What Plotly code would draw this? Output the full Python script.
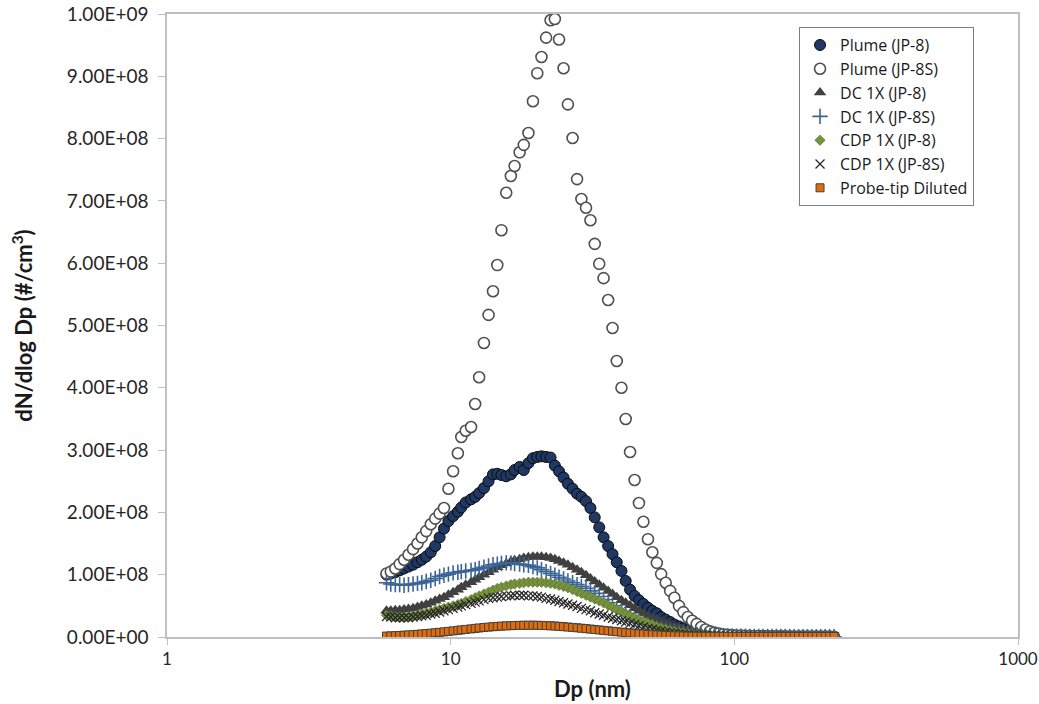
import plotly.graph_objects as go

# Particle diameter bins (nm)
DP_NM = [
    5.94, 6.15, 6.38, 6.61, 6.85, 7.10, 7.37, 7.64, 7.91, 8.20,
    8.51, 8.82, 9.14, 9.47, 9.82, 10.2, 10.6, 10.9, 11.3, 11.8,
    12.2, 12.6, 13.1, 13.6, 14.1, 14.6, 15.1, 15.7, 16.3, 16.8,
    17.5, 18.1, 18.8, 19.5, 20.2, 20.9, 21.7, 22.5, 23.3, 24.1,
    25.0, 25.9, 26.9, 27.9, 28.9, 30.0, 31.1, 32.2, 33.4, 34.6,
    35.9, 37.2, 38.5, 40.0, 41.4, 42.9, 44.5, 46.1, 47.8, 49.6,
    51.4, 53.3, 55.2, 57.3, 59.4, 61.5, 63.8, 66.1, 68.5, 71.0,
    73.7, 76.4, 79.1, 82.0, 85.1, 88.2, 91.4, 94.7, 98.2, 101.8,
    105.5, 109.4, 113.4, 117.6, 121.9, 126.3, 131.0, 135.8, 140.7, 145.9,
    151.2, 156.8, 162.5, 168.5, 174.7, 181.1, 187.7, 194.6, 201.7, 209.1,
    216.7, 224.7,
]

# dN/dlogDp values in units of 1e6 #/cm3
PLUME_JP8 = [
    100, 102, 104, 107, 110, 113, 116, 120, 124, 129,
    136, 146, 160, 174, 186, 194, 201, 208, 216, 221,
    225, 231, 239, 250, 261, 262, 260, 258, 261, 268,
    273, 268, 279, 287, 289, 290, 289, 288, 275, 266,
    256, 246, 238, 230, 225, 218, 207, 192, 176, 160,
    146, 133, 120, 106, 90, 76, 66, 59, 53, 47,
    42, 38, 32, 28, 24, 20, 17, 14, 11, 9,
    7, 5.5, 4.5, 3.5, 3.0, 2.5, 2.2, 2.0, 1.8, 1.6,
    1.5, 1.4, 1.3, 1.2, 1.1, 1.0, 1.0, 0.9, 0.9, 0.8,
    0.8, 0.8, 0.7, 0.7, 0.7, 0.6, 0.6, 0.6, 0.5, 0.5,
    0.5, 0.5,
]
PLUME_JP8S = [
    102, 105, 110, 117, 124, 132, 141, 150, 160, 170,
    181, 190, 198, 207, 238, 266, 295, 321, 331, 337,
    374, 417, 472, 517, 555, 597, 653, 713, 740, 756,
    778, 790, 809, 860, 905, 931, 962, 990, 992, 959,
    913, 855, 801, 735, 703, 689, 669, 631, 599, 576,
    541, 496, 443, 400, 350, 297, 252, 215, 185, 157,
    136, 119, 101, 87, 74, 63, 50, 40, 32, 26,
    21, 16, 12, 9, 7, 5.5, 4.5, 3.5, 3.0, 2.5,
    2.2, 2.0, 1.8, 1.6, 1.5, 1.4, 1.3, 1.2, 1.1, 1.0,
    1.0, 0.9, 0.9, 0.8, 0.8, 0.7, 0.7, 0.7, 0.6, 0.6,
    0.6, 0.5,
]
DC1X_JP8 = [
    42, 42, 43, 43, 44, 45, 46, 48, 50, 52,
    55, 58, 61, 64, 68, 72, 76, 80, 84, 88,
    92, 96, 100, 104, 108, 112, 115, 118, 121, 123,
    125, 127, 128, 129, 129, 129, 128, 127, 125, 122,
    119, 116, 112, 108, 104, 99, 94, 89, 84, 79,
    74, 69, 64, 59, 55, 51, 46, 42, 38, 34,
    31, 28, 25, 22, 19, 17, 15, 13, 11, 9,
    8, 6.5, 5.5, 4.5, 3.8, 3.2, 2.7, 2.3, 2.0, 1.8,
    1.6, 1.5, 1.4, 1.3, 1.2, 1.1, 1.0, 1.0, 0.9, 0.9,
    0.8, 0.8, 0.7, 0.7, 0.7, 0.6, 0.6, 0.6, 0.5, 0.5,
    0.5, 0.5,
]
DC1X_JP8S = [
    87, 85, 84, 84, 83, 84, 85, 86, 87, 89,
    91, 94, 97, 99, 101, 103, 104, 105, 106, 107,
    108, 110, 112, 114, 116, 117, 118, 119, 119, 118,
    117, 116, 115, 113, 111, 108, 105, 102, 99, 96,
    93, 90, 87, 84, 81, 78, 74, 70, 65, 60,
    55, 50, 45, 41, 37, 33, 29, 26, 23, 20,
    17, 15, 13, 11, 9.5, 8, 7, 6, 5, 4.2,
    3.5, 3.0, 2.6, 2.3, 2.0, 1.8, 1.6, 1.5, 1.4, 1.3,
    1.2, 1.1, 1.0, 1.0, 0.9, 0.9, 0.8, 0.8, 0.7, 0.7,
    0.7, 0.6, 0.6, 0.6, 0.5, 0.5, 0.5, 0.5, 0.4, 0.4,
    0.4, 0.4,
]
CDP1X_JP8 = [
    35, 34, 33, 32, 32, 33, 34, 35, 37, 38,
    40, 42, 44, 46, 48, 50, 52, 54, 57, 60,
    63, 66, 69, 72, 75, 78, 80, 82, 84, 85,
    86, 87, 88, 88, 88, 88, 87, 86, 85, 83,
    81, 79, 76, 73, 70, 67, 64, 61, 58, 55,
    51, 48, 44, 41, 37, 34, 31, 28, 25, 22,
    20, 17, 15, 13, 11, 9.5, 8, 7, 6, 5,
    4.2, 3.5, 3.0, 2.6, 2.3, 2.0, 1.8, 1.6, 1.5, 1.4,
    1.3, 1.2, 1.1, 1.0, 1.0, 0.9, 0.9, 0.8, 0.8, 0.7,
    0.7, 0.7, 0.6, 0.6, 0.6, 0.5, 0.5, 0.5, 0.5, 0.4,
    0.4, 0.4,
]
CDP1X_JP8S = [
    33, 32, 31, 31, 31, 31, 32, 33, 34, 35,
    37, 38, 40, 42, 44, 46, 48, 50, 52, 54,
    56, 58, 60, 62, 63, 64, 65, 66, 66, 67,
    67, 67, 66, 66, 65, 64, 62, 61, 59, 57,
    55, 53, 51, 49, 46, 44, 42, 39, 37, 35,
    32, 30, 28, 26, 24, 22, 20, 18, 16, 14,
    12.5, 11, 9.5, 8, 7, 6, 5, 4.3, 3.6, 3.0,
    2.6, 2.3, 2.0, 1.8, 1.6, 1.5, 1.4, 1.3, 1.2, 1.1,
    1.0, 1.0, 0.9, 0.9, 0.8, 0.8, 0.7, 0.7, 0.7, 0.6,
    0.6, 0.6, 0.5, 0.5, 0.5, 0.5, 0.4, 0.4, 0.4, 0.4,
    0.4, 0.3,
]
PROBE_TIP_DILUTED = [
    1.5, 1.8, 2.1, 2.5, 2.9, 3.3, 3.8, 4.3, 4.9, 5.5,
    6.1, 6.8, 7.5, 8.2, 9.0, 9.8, 10.6, 11.4, 12.2, 13.0,
    13.8, 14.5, 15.2, 15.9, 16.5, 17.0, 17.5, 17.9, 18.2, 18.5,
    18.7, 18.8, 18.9, 18.9, 18.8, 18.6, 18.3, 18.0, 17.6, 17.1,
    16.6, 16.0, 15.4, 14.8, 14.1, 13.4, 12.7, 12.0, 11.3, 10.6,
    9.9, 9.2, 8.5, 7.8, 7.1, 6.5, 5.9, 5.3, 4.8, 4.3,
    3.8, 3.4, 3.0, 2.6, 2.3, 2.0, 1.8, 1.6, 1.4, 1.3,
    1.2, 1.2, 1.1, 1.1, 1.1, 1.1, 1.0, 1.0, 1.0, 1.0,
    1.0, 1.0, 1.0, 0.9, 0.9, 0.9, 0.9, 0.9, 0.9, 0.9,
    0.9, 0.9, 0.9, 0.9, 0.8, 0.8, 0.8, 0.8, 0.8, 0.8,
    0.8, 0.8,
]
UNIT = 1e6

SERIES_NAMES = [
    "Plume (JP-8)", "Plume (JP-8S)", "DC 1X (JP-8)", "DC 1X (JP-8S)",
    "CDP 1X (JP-8)", "CDP 1X (JP-8S)", "Probe-tip Diluted",
]
SERIES_VALUES = [PLUME_JP8, PLUME_JP8S, DC1X_JP8, DC1X_JP8S,
                 CDP1X_JP8, CDP1X_JP8S, PROBE_TIP_DILUTED]

Y_TICK_VALUES = [0, 1e8, 2e8, 3e8, 4e8, 5e8, 6e8, 7e8, 8e8, 9e8, 1e9]
Y_TICK_LABELS = ["0.00E+00", "1.00E+08", "2.00E+08", "3.00E+08", "4.00E+08",
                 "5.00E+08", "6.00E+08", "7.00E+08", "8.00E+08", "9.00E+08",
                 "1.00E+09"]
X_TICK_VALUES = [1, 10, 100, 1000]
X_TICK_LABELS = ["1", "10", "100", "1000"]

MARKERS = [
    dict(symbol="circle", size=11, color="#1F3864",
         line=dict(color="#0a0a0a", width=1)),
    dict(symbol="circle", size=11, color="#ffffff",
         line=dict(color="#505050", width=1.6)),
    dict(symbol="triangle-up", size=11, color="#404040",
         line=dict(color="#404040", width=0)),
    dict(symbol="cross-thin", size=11, color="#3B6496",
         line=dict(color="#3B6496", width=1.6)),
    dict(symbol="diamond", size=8, color="#76923C",
         line=dict(color="#4F6228", width=0.5)),
    dict(symbol="x-thin", size=9, color="#262626",
         line=dict(color="#262626", width=1.3)),
    dict(symbol="square", size=8, color="#E36C09",
         line=dict(color="#404040", width=1)),
]

FONT = "Lato, 'Liberation Sans', Arial, sans-serif"
LEGEND_FONT = "'Open Sans', Lato, Arial, sans-serif"

fig = go.Figure()
for name, vals, mk in zip(SERIES_NAMES, SERIES_VALUES, MARKERS):
    fig.add_trace(go.Scatter(
        x=DP_NM, y=[v * UNIT for v in vals], mode="markers",
        name=name, marker=mk,
    ))

fig.update_layout(
    width=1039, height=704,
    margin=dict(l=167, r=21, t=14, b=67, autoexpand=False),
    paper_bgcolor="white", plot_bgcolor="white",
    font=dict(family=FONT, size=15, color="#404040"),
    showlegend=True,
    legend=dict(
        x=0.7427, y=0.979, xanchor="left", yanchor="top",
        bordercolor="#7f7f7f", borderwidth=1, bgcolor="white",
        font=dict(family=LEGEND_FONT, size=16, color="#1a1a1a"),
        itemwidth=30, tracegroupgap=0,
    ),
)
fig.update_xaxes(
    type="log", range=[0, 3], automargin=False,
    ticklabeloverflow="allow",
    tickvals=X_TICK_VALUES, ticktext=X_TICK_LABELS,
    ticks="outside", ticklen=6, tickcolor="#BFBFBF",
    showline=True, linecolor="#BFBFBF", linewidth=1.5, mirror=True,
    showgrid=False, zeroline=False,
    tickfont=dict(family=FONT, size=17, color="#262626"),
    title=dict(text="<b>Dp (nm)</b>", standoff=13,
               font=dict(family=FONT, size=22, color="#1a1a1a")),
)
fig.update_yaxes(
    range=[0, 1e9], automargin=False,
    ticklabeloverflow="allow", ticklabelstandoff=6,
    tickvals=Y_TICK_VALUES, ticktext=Y_TICK_LABELS,
    ticks="outside", ticklen=7, tickcolor="#BFBFBF",
    showline=True, linecolor="#BFBFBF", linewidth=1.5, mirror=True,
    showgrid=False, zeroline=False,
    tickfont=dict(family=FONT, size=19, color="#262626"),
    title=dict(text="<b>dN/dlog Dp (#/cm<sup>3</sup>)</b>", standoff=28,
               font=dict(family=FONT, size=22, color="#1a1a1a")),
)

fig.write_html(
    "out.html",
    config={"displayModeBar": False},
    post_script="document.body.style.margin='0';"
                "document.body.style.overflow='hidden';",
)
